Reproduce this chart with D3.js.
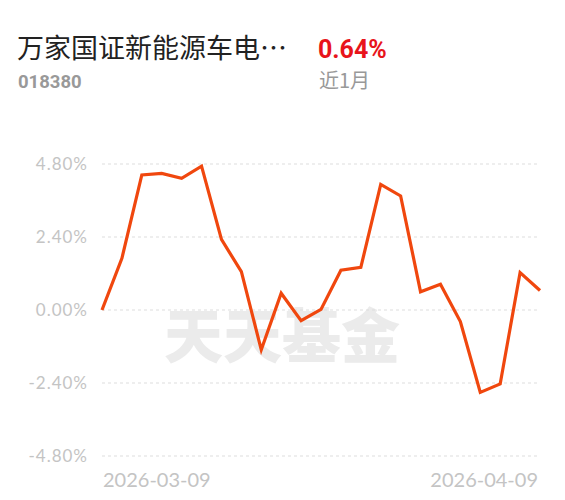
<!DOCTYPE html>
<html>
<head>
<meta charset="utf-8">
<script src="https://cdn.jsdelivr.net/npm/d3@7/dist/d3.min.js"></script>
<style>
  body { margin: 0; background: #fff; }
  svg text { font-family: Roboto, "Noto Sans CJK SC", sans-serif; }
</style>
</head>
<body>
<div id="chart"></div>
<script>
const dates = ["2026-03-09", "2026-03-10", "2026-03-11", "2026-03-12", "2026-03-13",
               "2026-03-16", "2026-03-17", "2026-03-18", "2026-03-19", "2026-03-20",
               "2026-03-23", "2026-03-24", "2026-03-25", "2026-03-26", "2026-03-27",
               "2026-03-30", "2026-03-31", "2026-04-01", "2026-04-02", "2026-04-03",
               "2026-04-07", "2026-04-08", "2026-04-09"]
const returns = [0.00, 1.70, 4.44, 4.49, 4.33, 4.73, 2.32, 1.26, -1.31, 0.55,
                 -0.35, 0.02, 1.31, 1.40, 4.13, 3.75, 0.60, 0.85, -0.38, -2.71,
                 -2.43, 1.23, 0.64]
const yTicks = [4.8, 2.4, 0, -2.4, -4.8]
const xLabels = ["2026-03-09", "2026-04-09"]
const fundName = "万家国证新能源车电…"
const fundCode = "018380"
const periodLabel = "近1月"

const WIDTH = 565
const HEIGHT = 500
const PLOT = {left: 102, right: 540, top: 164, bottom: 456}

const svg = d3.select("#chart")
  .append("svg")
  .attr("width", WIDTH)
  .attr("height", HEIGHT)

// header
svg.append("text")
  .text(fundName)
  .attr("x", 17).attr("y", 58)
  .attr("font-size", 27)
  .attr("fill", "#222")
  .style("font-family", "'Noto Sans CJK SC', sans-serif")

svg.append("text")
  .text(fundCode)
  .attr("x", 18).attr("y", 88)
  .attr("font-size", 18.5)
  .attr("font-weight", "bold")
  .attr("fill", "#999")

svg.append("text")
  .text(returns[returns.length - 1].toFixed(2) + "%")
  .attr("x", 318).attr("y", 58)
  .attr("font-size", 25)
  .attr("font-weight", "bold")
  .attr("fill", "#e8141b")

svg.append("text")
  .text(periodLabel)
  .attr("x", 319).attr("y", 88)
  .attr("font-size", 20)
  .attr("fill", "#999")
  .style("font-family", "'Noto Sans CJK SC', sans-serif")

// scales
const x = d3.scalePoint()
  .domain(dates)
  .range([PLOT.left, PLOT.right])

const y = d3.scaleLinear()
  .domain([-4.8, 4.8])
  .range([PLOT.bottom, PLOT.top])

// watermark
svg.append("text")
  .text("天天基金")
  .attr("x", 282).attr("y", 358)
  .attr("text-anchor", "middle")
  .attr("font-size", 59)
  .attr("font-weight", 900)
  .attr("fill", "#ebebeb")
  .style("font-family", "'Noto Sans CJK SC', sans-serif")

// grid
svg.append("g")
  .selectAll("line")
  .data(yTicks).enter()
  .append("line")
  .attr("x1", PLOT.left)
  .attr("x2", PLOT.right)
  .attr("y1", (d) => y(d))
  .attr("y2", (d) => y(d))
  .attr("stroke", "#ddd")
  .attr("stroke-width", 1)
  .attr("stroke-dasharray", "3,3")

svg.append("g")
  .selectAll("text")
  .data(yTicks).enter()
  .append("text")
  .text((d) => d.toFixed(2) + "%")
  .attr("x", 88)
  .attr("y", (d) => y(d) + 6)
  .attr("text-anchor", "end")
  .attr("font-size", 17)
  .attr("letter-spacing", 1)
  .attr("fill", "#c4c4c4")
  .style("font-family", "Lato, sans-serif")

svg.append("g")
  .selectAll("text")
  .data(xLabels).enter()
  .append("text")
  .text((d) => d)
  .attr("x", (d, i) => x(d) + (i === 0 ? 1 : -2))
  .attr("y", 487)
  .attr("text-anchor", (_, i) => i === 0 ? "start" : "end")
  .attr("font-size", 20)
  .attr("fill", "#c4c4c4")
  .style("font-family", "Lato, sans-serif")

// line
const line = d3.line()
  .x((_, i) => x(dates[i]))
  .y((d) => y(d))

svg.append("path")
  .datum(returns)
  .attr("d", line)
  .attr("fill", "none")
  .attr("stroke", "#f0470e")
  .attr("stroke-width", 3.2)
  .attr("stroke-linejoin", "miter")
</script>
</body>
</html>
